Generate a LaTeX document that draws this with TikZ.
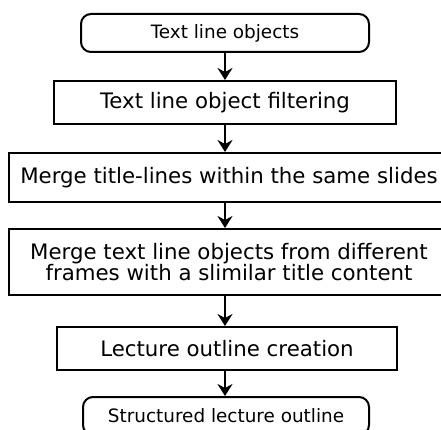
\documentclass[tikz,border=0pt]{standalone}
\usepackage{fontspec}
\setmainfont{DejaVu Sans}
\usetikzlibrary{arrows.meta}
\begin{document}
\begin{tikzpicture}[x=1pt,y=-1pt,
  box/.style={draw=black, line width=2pt, inner sep=0pt, align=center, font=\fontsize{21.3}{21.5}\selectfont},
  term/.style={box, rounded corners=10pt, font=\fontsize{18.4}{22}\selectfont},
  flow/.style={line width=2pt, -{Stealth[length=12pt,width=15pt,inset=4pt]}}]
\clip (0,0) rectangle (441,430);
\useasboundingbox (0,0) rectangle (441,430);
\fill[white] (0,0) rectangle (441,430);
\node[term, minimum width=288pt, minimum height=38pt] (b1) at (225,33) {Text line objects};
\node[box, minimum width=342pt, minimum height=43pt] (b2) at (225,102.5) {Text line object filtering};
\node[box, minimum width=440pt, minimum height=49pt] (b3) at (229,177.5) {Merge title-lines within the same slides};
\node[box, minimum width=440pt, minimum height=66pt] (b4) at (229,262) {Merge text line objects from different\\frames with a slimilar title content};
\node[box, minimum width=340pt, minimum height=43pt] (b5) at (227,348.5) {Lecture outline creation};
\node[term, minimum width=286pt, minimum height=38pt] (b6) at (226,416) {Structured lecture outline};
\draw[flow] (b1.south -| 225,0) -- (b2.north -| 225,0);
\draw[flow] (b2.south -| 225,0) -- (b3.north -| 225,0);
\draw[flow] (b3.south -| 225,0) -- (b4.north -| 225,0);
\draw[flow] (b4.south -| 225,0) -- (b5.north -| 225,0);
\draw[flow] (b5.south -| 225,0) -- (b6.north -| 225,0);
\end{tikzpicture}
\end{document}
